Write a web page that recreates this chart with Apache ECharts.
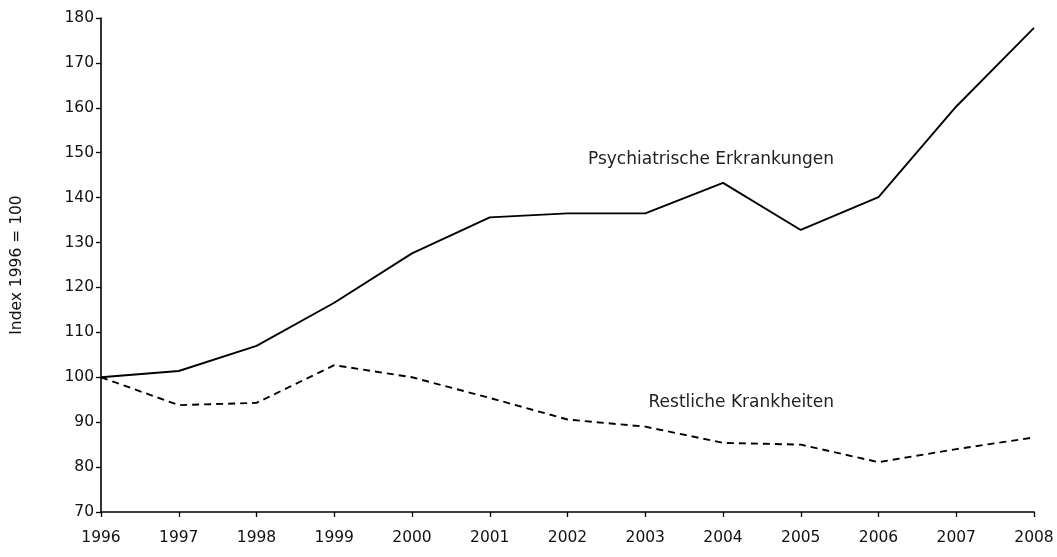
<!DOCTYPE html>
<html>
<head>
<meta charset="utf-8">
<script src="https://cdn.jsdelivr.net/npm/echarts@6/dist/echarts.min.js"></script>
<style>
html,body{margin:0;padding:0;background:#fff;}
#chart{width:1057px;height:557px;}
</style>
</head>
<body>
<div id="chart"></div>
<script>
const years = ['1996','1997','1998','1999','2000','2001','2002','2003','2004','2005','2006','2007','2008'];
const psychiatrische = [100, 101.4, 107.0, 116.6, 127.6, 135.6, 136.5, 136.5, 143.3, 132.8, 140.1, 160.3, 177.8];
const restliche = [100, 93.8, 94.3, 102.7, 100.0, 95.4, 90.6, 89.0, 85.4, 85.0, 81.1, 84.0, 86.6];
const yTicks = { min: 70, max: 180, interval: 10 };
const seriesNames = ['Psychiatrische Erkrankungen', 'Restliche Krankheiten'];
const yAxisTitle = 'Index 1996 = 100';

const FONT = 'DejaVu Sans';
const chart = echarts.init(document.getElementById('chart'), null, {renderer: 'canvas'});
chart.setOption({
  animation: false,
  backgroundColor: '#fff',
  grid: { left: 101, top: 18, right: 23, bottom: 45, containLabel: false },
  xAxis: {
    type: 'category',
    data: years,
    boundaryGap: false,
    axisLine: { lineStyle: { color: '#000', width: 1.6 } },
    axisTick: { show: true, length: 5, inside: false, alignWithLabel: true, lineStyle: { color: '#000', width: 1.3 } },
    axisLabel: { color: '#111', fontFamily: FONT, fontSize: 15.5, margin: 18 },
    splitLine: { show: false }
  },
  yAxis: {
    type: 'value',
    min: yTicks.min, max: yTicks.max, interval: yTicks.interval,
    name: yAxisTitle,
    nameLocation: 'middle',
    nameGap: 76,
    nameRotate: 90,
    nameTextStyle: { color: '#111', fontFamily: FONT, fontSize: 15.5 },
    axisLine: { show: true, lineStyle: { color: '#000', width: 1.6 } },
    axisTick: { show: true, length: 5, lineStyle: { color: '#000', width: 1.3 } },
    axisLabel: { color: '#111', fontFamily: FONT, fontSize: 15.5, margin: 7 },
    splitLine: { show: false }
  },
  series: [
    {
      name: seriesNames[0], type: 'line', data: psychiatrische,
      symbol: 'none', lineStyle: { color: '#000', width: 1.9, type: 'solid' }
    },
    {
      name: seriesNames[1], type: 'line', data: restliche,
      symbol: 'none', lineStyle: { color: '#000', width: 1.9, type: [7, 5] }
    }
  ],
  graphic: [
    { type: 'text', right: 1057 - 834, top: 151, style: { text: seriesNames[0], fill: '#222', font: '17px "' + FONT + '"' } },
    { type: 'text', right: 1057 - 834, top: 394, style: { text: seriesNames[1], fill: '#222', font: '17px "' + FONT + '"' } }
  ]
});
</script>
</body>
</html>
